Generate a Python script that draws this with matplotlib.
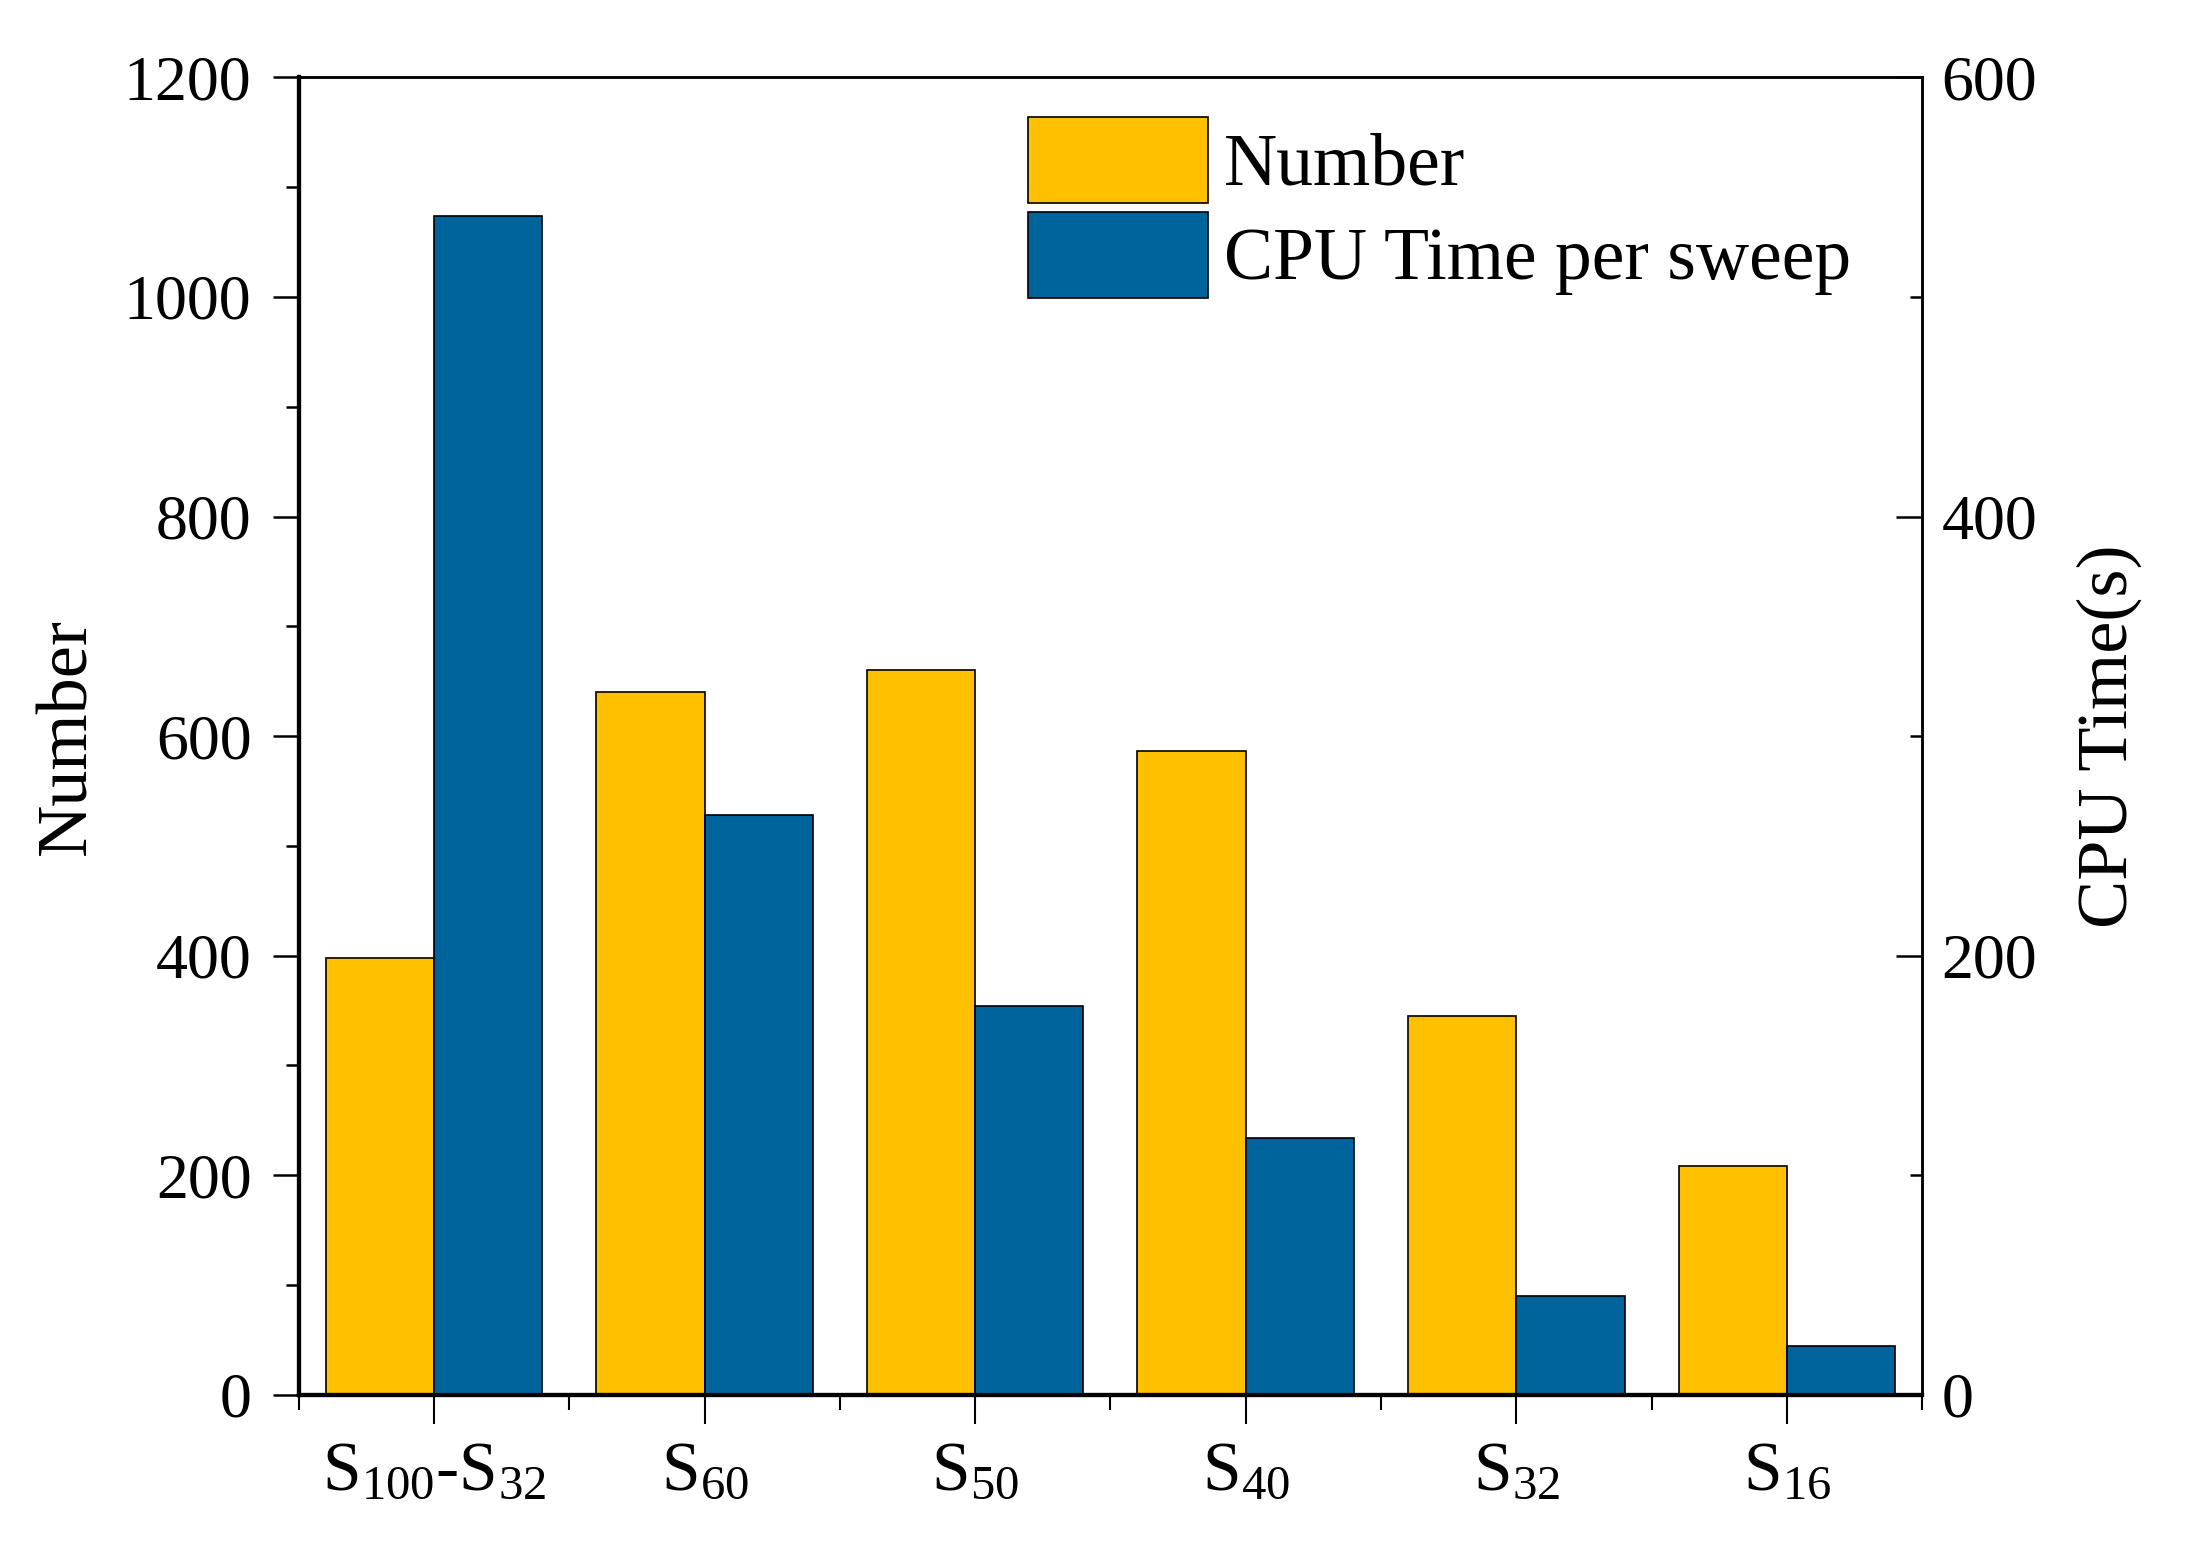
import matplotlib
matplotlib.use("Agg")
import matplotlib.pyplot as plt
import numpy as np

# data
groups = [r"$\mathrm{S}_{100}$-$\mathrm{S}_{32}$", r"$\mathrm{S}_{60}$", r"$\mathrm{S}_{50}$",
          r"$\mathrm{S}_{40}$", r"$\mathrm{S}_{32}$", r"$\mathrm{S}_{16}$"]
number = [398, 640, 660, 586, 345, 208]
cpu_time = [537, 264, 177, 117, 45, 22]

yellow = "#FFC000"
blue = "#00649C"

plt.rcParams["font.family"] = ["Liberation Serif", "DejaVu Serif"]
plt.rcParams["mathtext.fontset"] = "custom"
plt.rcParams["mathtext.rm"] = "Liberation Serif"
plt.rcParams["mathtext.it"] = "Liberation Serif:italic"

fig = plt.figure(figsize=(21.88, 15.48), dpi=100)
ax = fig.add_axes([0.1365, 0.099, 0.742, 0.851])
ax2 = ax.twinx()

x = np.arange(len(groups))
w = 0.4
b1 = ax.bar(x - w/2, number, w, color=yellow, edgecolor="black", linewidth=1.2, label="Number")
b2 = ax2.bar(x + w/2, cpu_time, w, color=blue, edgecolor="black", linewidth=1.2, label="CPU Time per sweep")

ax.set_xlim(-0.5, 5.5)
ax.set_ylim(0, 1200)
ax2.set_ylim(0, 600)

ax.set_xticks(x)
ax.set_xticklabels(groups, fontsize=50)
ax.set_xticks(np.arange(-0.5, 6, 1), minor=True)
ax.set_yticks(np.arange(0, 1201, 200))
ax.set_yticks(np.arange(100, 1200, 200), minor=True)
ax2.set_yticks(np.arange(0, 601, 200))
ax2.set_yticks(np.arange(100, 600, 200), minor=True)

ax.tick_params(axis="y", which="major", direction="out", length=19, width=1.8, labelsize=46, pad=15)
ax.tick_params(axis="y", which="minor", direction="out", length=9.5, width=1.8)
ax.tick_params(axis="x", which="major", direction="out", length=21, width=1.5, pad=12)
ax.tick_params(axis="x", which="minor", direction="out", length=11, width=1.5)
ax2.tick_params(axis="y", which="major", direction="in", length=19, width=1.8, labelsize=46, pad=14)
ax2.tick_params(axis="y", which="minor", direction="in", length=9, width=1.8)

for s in ["left", "bottom"]:
    ax.spines[s].set_linewidth(3)
    ax2.spines[s].set_linewidth(3)
for s in ["top", "right"]:
    ax.spines[s].set_linewidth(1.8)
    ax2.spines[s].set_linewidth(1.8)

ax.set_ylabel("Number", fontsize=52)
ax.yaxis.set_label_coords(-0.122, 0.5)
ax2.set_ylabel("CPU Time(s)", fontsize=52)
ax2.yaxis.set_label_coords(1.095, 0.5)

ax2.legend([b1, b2], ["Number", "CPU Time per sweep"], loc="upper left",
           bbox_to_anchor=(0.449, 0.970), frameon=False, fontsize=53,
           borderpad=0, borderaxespad=0, handlelength=2.45, handleheight=1.42,
           handletextpad=0.22, labelspacing=0.12)

plt.savefig("out.png", dpi=100)
